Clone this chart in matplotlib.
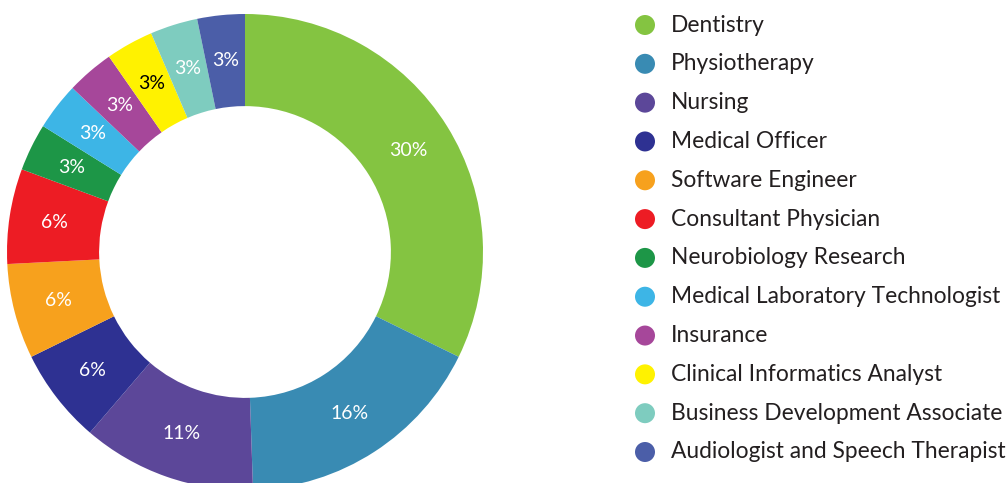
import matplotlib
matplotlib.use("Agg")
import matplotlib.pyplot as plt

categories = ["Dentistry", "Physiotherapy", "Nursing", "Medical Officer",
              "Software Engineer", "Consultant Physician", "Neurobiology Research",
              "Medical Laboratory Technologist", "Insurance",
              "Clinical Informatics Analyst", "Business Development Associate",
              "Audiologist and Speech Therapist"]
values = [30, 16, 11, 6, 6, 6, 3, 3, 3, 3, 3, 3]
colors = ["#84C441", "#398BB3", "#5C4799", "#2E3192", "#F7A11D", "#ED1C24",
          "#1D9647", "#3DB5E6", "#A6479A", "#FFF200", "#7ECCBF", "#4B5EA8"]
label_colors = ["white"] * 9 + ["black"] + ["white"] * 2
pct_labels = [f"{v}%" for v in values]

plt.rcParams['font.family'] = ['Lato', 'DejaVu Sans']

W, H = 1007, 483
fig = plt.figure(figsize=(W / 100, H / 100), dpi=100)

# Donut
cx, cy, R = 245, 483 - 252, 238
ax = fig.add_axes([(cx - R) / W, (cy - R) / H, 2 * R / W, 2 * R / H])
wedges, texts = ax.pie(values, colors=colors, startangle=90, counterclock=False,
                       radius=1.0, labels=pct_labels, labeldistance=0.81,
                       wedgeprops=dict(width=0.387, linewidth=0),
                       textprops=dict(ha='center', va='center', fontsize=14))
for t, c in zip(texts, label_colors):
    t.set_color(c)
ax.set_xlim(-1, 1)
ax.set_ylim(-1, 1)
ax.set_aspect('equal')

# Legend
lx0, ly_top, ly_bot = 600, 25, 452
lax = fig.add_axes([lx0 / W, 0, (W - lx0) / W, 1])
lax.set_xlim(lx0, W)
lax.set_ylim(H, 0)
lax.axis('off')
n = len(categories)
ys = [ly_top + i * (ly_bot - ly_top) / (n - 1) for i in range(n)]
lax.scatter([645] * n, ys, s=(20 * 0.72) ** 2, c=colors, marker='o', linewidths=0)
for y, name in zip(ys, categories):
    lax.text(671, y, name, ha='left', va='center', fontsize=16.4, color='#231F20')

fig.savefig("out.png", dpi=100)
